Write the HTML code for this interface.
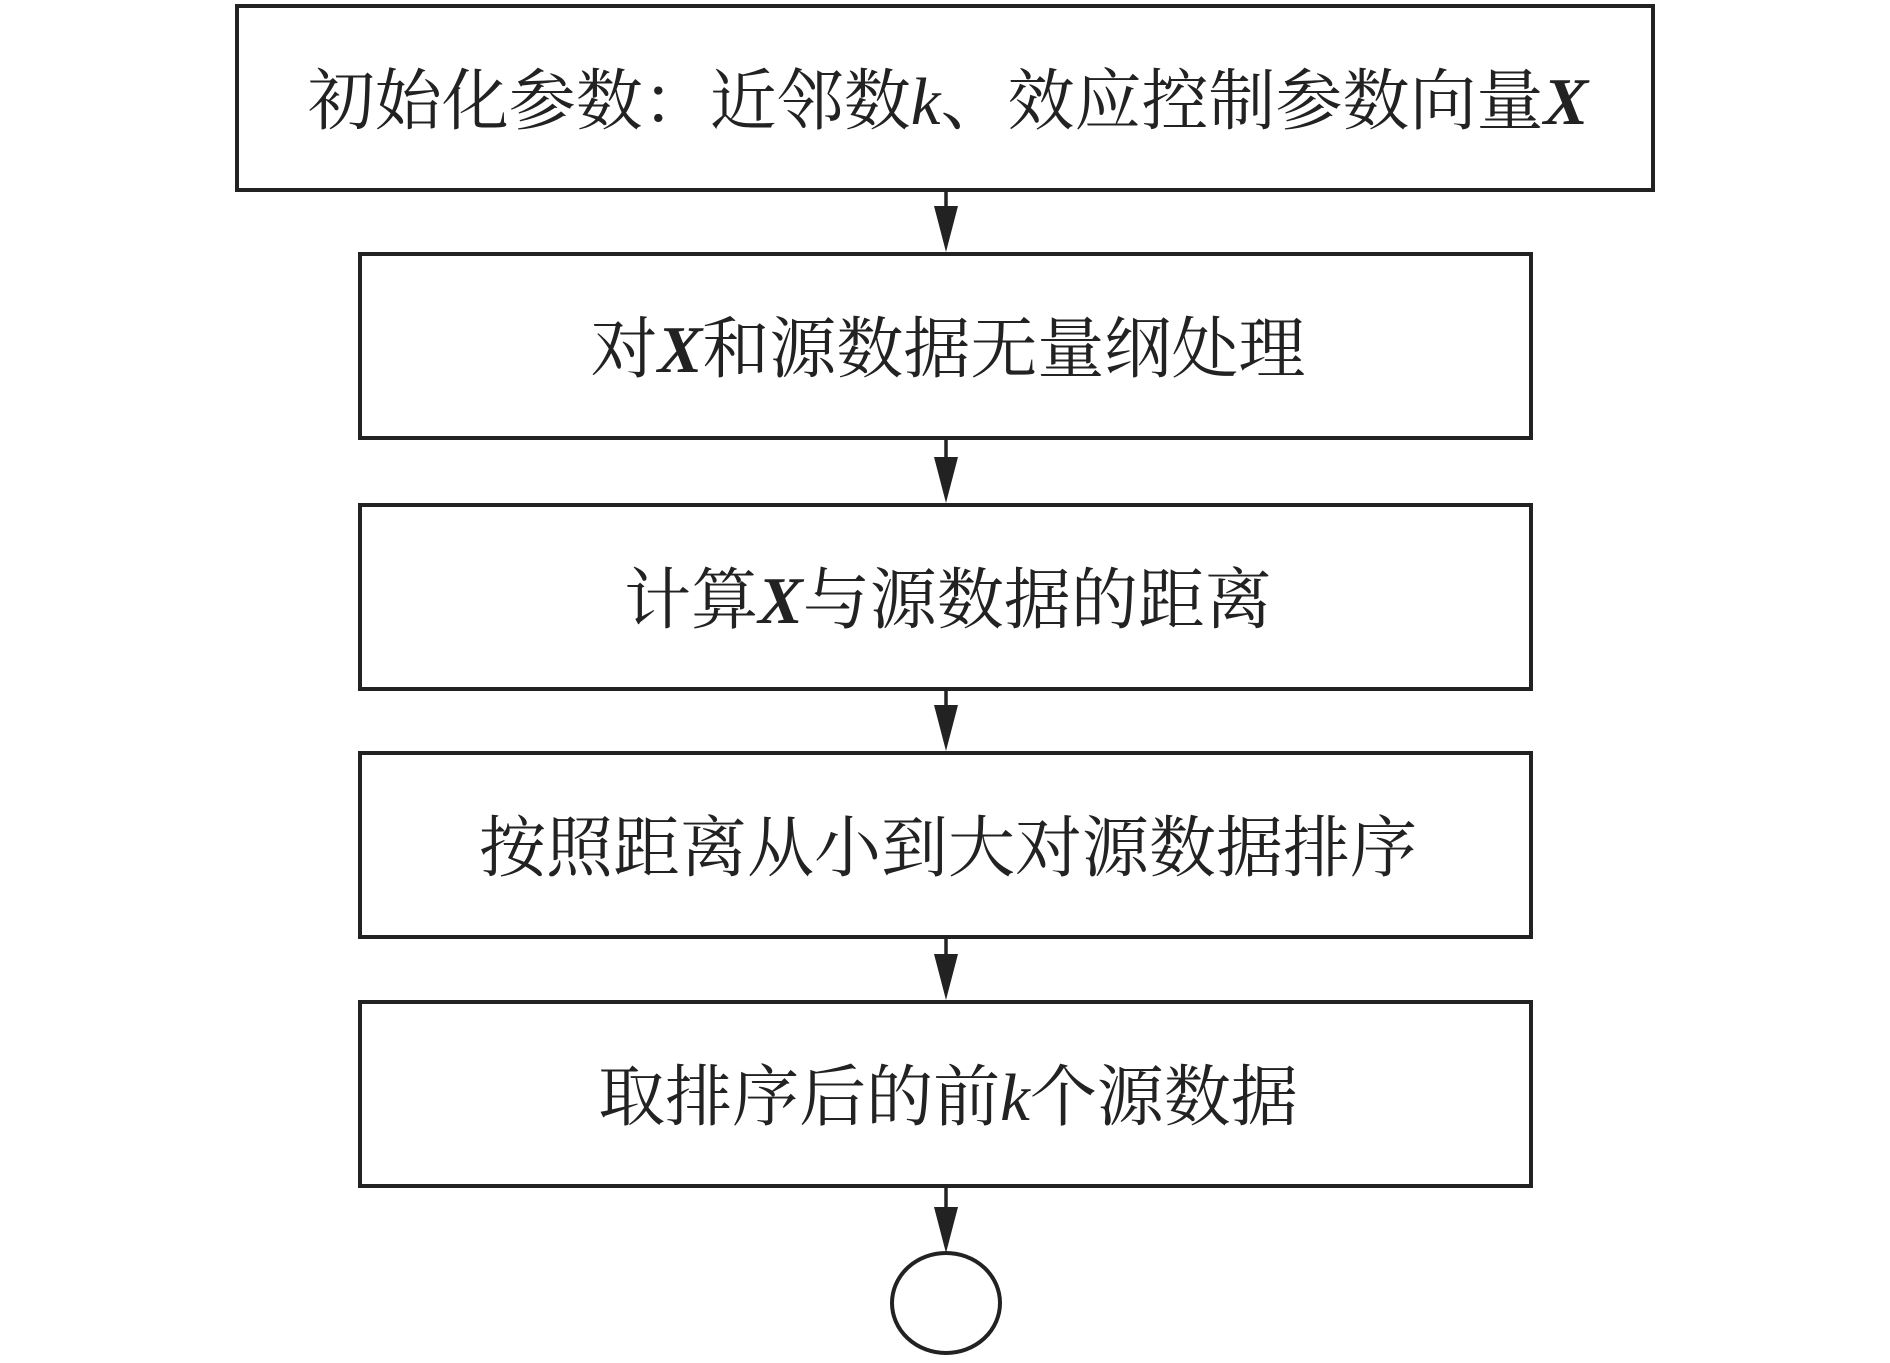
<!DOCTYPE html>
<html><head><meta charset="utf-8"><style>
html,body{margin:0;padding:0;background:#fff;}
svg text{font-family:"Liberation Serif","Noto Serif CJK SC",serif;font-size:67px;fill:#222;}
.v{font-style:italic;font-weight:bold;}
.k{font-style:italic;}
</style></head><body>
<svg width="1890" height="1358" xmlns="http://www.w3.org/2000/svg">
<g fill="none" stroke="#222" stroke-width="4">
<rect x="237" y="6" width="1416" height="184"/>
<rect x="360" y="254" width="1171" height="184"/>
<rect x="360" y="505" width="1171" height="184"/>
<rect x="360" y="753" width="1171" height="184"/>
<rect x="360" y="1002" width="1171" height="184"/>
<ellipse cx="946" cy="1303" rx="54" ry="50"/>
</g>
<g stroke="#222" stroke-width="3.5">
<line x1="946" y1="190" x2="946" y2="212"/>
<line x1="946" y1="438" x2="946" y2="463"/>
<line x1="946" y1="689" x2="946" y2="711"/>
<line x1="946" y1="937" x2="946" y2="960"/>
<line x1="946" y1="1186" x2="946" y2="1209"/>
</g>
<g fill="#222">
<path d="M934,206 L958,206 L946,252 Z"/>
<path d="M934,457 L958,457 L946,503 Z"/>
<path d="M934,705 L958,705 L946,751 Z"/>
<path d="M934,954 L958,954 L946,1000 Z"/>
<path d="M934,1207 L958,1207 L946,1253 Z"/>
</g>
<g text-anchor="middle">
<text x="948" y="124">初始化参数：近邻数<tspan class="k">k</tspan>、效应控制参数向量<tspan class="v">X</tspan></text>
<text x="948" y="372">对<tspan class="v">X</tspan>和源数据无量纲处理</text>
<text x="948" y="623">计算<tspan class="v">X</tspan>与源数据的距离</text>
<text x="948" y="871">按照距离从小到大对源数据排序</text>
<text x="948" y="1120">取排序后的前<tspan class="k">k</tspan>个源数据</text>
</g>
</svg>
</body></html>
